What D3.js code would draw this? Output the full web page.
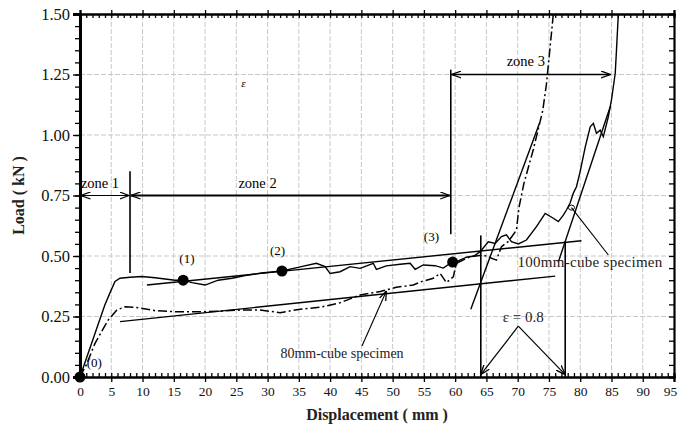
<!DOCTYPE html>
<html>
<head>
<meta charset="utf-8">
<script src="https://cdn.jsdelivr.net/npm/d3@7"></script>
<style>
  body { margin: 0; background: #fff; }
  svg { font-family: "Liberation Serif", "DejaVu Serif", serif; }
</style>
</head>
<body>
<svg class="chart"></svg>
<script>
// ---- data ----
var xTicks = d3.range(0, 96, 5);
var yTicks = [0, 0.25, 0.5, 0.75, 1.0, 1.25, 1.5];

// 100mm-cube specimen (solid)
var curve100 = [[0,0],[1,0.075],[2,0.15],[3,0.225],[4,0.30],[5,0.36],[5.6,0.395],[6.4,0.408],[8,0.412],
  [9.9,0.415],[12,0.41],[15.2,0.40],[16.5,0.40],[17.9,0.39],[20,0.38],[22.1,0.40],[24.3,0.408],[26.4,0.419],
  [29,0.43],[32.3,0.438],[35.4,0.456],[37.8,0.47],[39.2,0.456],[40,0.428],[41.6,0.435],[43.2,0.456],
  [44.8,0.449],[46.9,0.47],[47.4,0.445],[49,0.459],[51.2,0.466],[52.8,0.47],[53.6,0.445],[54.9,0.463],
  [56.8,0.46],[58.1,0.45],[59.6,0.477],[60.5,0.48],[61.8,0.495],[63,0.50],[64,0.518],[65.3,0.559],
  [66.4,0.552],[67.4,0.58],[68.2,0.587],[69,0.559],[70.1,0.55],[71.4,0.566],[73,0.621],[74.4,0.676],
  [75.7,0.656],[76.5,0.642],[77.3,0.669],[77.8,0.69],[78.4,0.72],[78.9,0.76],[79.4,0.786],[80,0.85],
  [80.8,0.95],[81.6,1.034],[82.1,1.048],[82.6,1.007],[83.2,1.02],[83.7,0.993],[84.5,1.076],[85,1.145],
  [85.6,1.255],[85.8,1.35],[86.1,1.5]];

// 80mm-cube specimen (dash-dot)
var curve80 = [[0,0],[1,0.05],[2.4,0.139],[3.5,0.19],[4.5,0.235],[5.9,0.277],[7.2,0.29],[8.8,0.288],
  [12,0.274],[15.2,0.27],[20.5,0.27],[25.9,0.277],[28.8,0.277],[32,0.266],[35.2,0.28],[38.4,0.288],
  [41.6,0.307],[44.8,0.339],[48,0.353],[50.6,0.371],[53.3,0.38],[54.6,0.394],[56.5,0.408],[57.6,0.428],
  [58.6,0.39],[59.7,0.414],[60.2,0.47],[62.4,0.497],[64.5,0.504],[66.6,0.483],[67.4,0.538],[68.5,0.56],
  [69.8,0.607],[70.2,0.70],[71,0.80],[72.5,0.94],[74,1.1],[74.6,1.21],[75.4,1.42],[75.7,1.5]];

// straight construction lines
var fitUpper = [[10.7,0.38],[80.2,0.563]];
var fitLower = [[6.4,0.229],[76,0.417]];
var tangent1 = [[62.5,0.28],[73.5,1.05]];
var tangent2 = [[76.5,0.475],[84.8,1.117]];
var verticals = [[8,0.43,0.85],[59.3,0.59,1.27],[64.1,0,0.585],[77.6,0,0.56]];

var points = [[0,0],[16.5,0.40],[32.3,0.438],[59.6,0.475]];
var pointLabels = ["(0)","(1)","(2)","(3)"];

var zones = [
  {name:"zone 1", x0:0,    x1:8,    y:0.75, w:1.2},
  {name:"zone 2", x0:8,    x1:59.3, y:0.75, w:2.2},
  {name:"zone 3", x0:59.3, x1:85,   y:1.25, w:1.4}
];

// ---- layout ----
var W = 678, H = 433;
var svg = d3.select(".chart").attr("width", W).attr("height", H);
var x = d3.scaleLinear().domain([0,95]).range([80,674]);
var y = d3.scaleLinear().domain([0,1.5]).range([377,14]);

var defs = svg.append("defs");
defs.append("marker").attr("id","arr").attr("viewBox","0 0 10 8")
  .attr("refX",9.5).attr("refY",4).attr("markerWidth",10).attr("markerHeight",8)
  .attr("markerUnits","userSpaceOnUse").attr("orient","auto-start-reverse")
  .append("path").attr("d","M0,0.5 L9.5,4 L0,7.5").attr("fill","none").attr("stroke","#000").attr("stroke-width",1.3);

// grid
svg.append("g").selectAll("line").data(xTicks.slice(1,-1)).enter().append("line")
  .attr("x1",x).attr("x2",x).attr("y1",y(0)).attr("y2",y(1.5))
  .attr("stroke","#c8c8c8").attr("stroke-dasharray","5,2");
svg.append("g").selectAll("line").data(yTicks.slice(1,-1)).enter().append("line")
  .attr("y1",y).attr("y2",y).attr("x1",x(0)).attr("x2",x(95))
  .attr("stroke","#c8c8c8").attr("stroke-dasharray","5,2");

// axes
var minorX = d3.range(0,96,1), minorY = d3.range(0,1.501,0.05);
var bottom = svg.append("g").attr("transform","translate(0,"+y(0)+")")
  .call(d3.axisBottom(x).tickValues(xTicks).tickSize(5).tickPadding(4).tickFormat(d3.format("d")));
svg.append("g").attr("transform","translate(0,"+y(0)+")")
  .call(d3.axisBottom(x).tickValues(minorX).tickSize(-4).tickFormat(""));
svg.append("g").attr("transform","translate(0,"+y(1.5)+")")
  .call(d3.axisTop(x).tickValues(xTicks).tickSize(4).tickFormat(""));
svg.append("g").attr("transform","translate(0,"+y(1.5)+")")
  .call(d3.axisTop(x).tickValues(minorX).tickSize(-4).tickFormat(""));
var left = svg.append("g").attr("transform","translate("+x(0)+",0)")
  .call(d3.axisLeft(y).tickValues(yTicks).tickSize(7).tickPadding(3).tickFormat(d3.format(".2f")));
svg.append("g").attr("transform","translate("+x(0)+",0)")
  .call(d3.axisLeft(y).tickValues(minorY).tickSize(5).tickFormat(""));
svg.append("g").attr("transform","translate("+x(95)+",0)")
  .call(d3.axisRight(y).tickValues(minorY).tickSize(-5).tickFormat(""));
svg.selectAll(".domain").attr("stroke-width",2.2).attr("stroke","#000");
left.select(".domain").attr("stroke-width",3);
svg.selectAll(".tick line").attr("stroke","#000").attr("stroke-width",1.3);
svg.selectAll(".tick text").attr("font-family","Liberation Serif").attr("fill","#111");
left.selectAll(".tick text").attr("font-size",16.5);
bottom.selectAll(".tick text").attr("font-size",13.5);
bottom.selectAll(".tick text").filter(function(d){return d === 95;}).attr("dx",-4);

// axis titles
svg.append("text").attr("x",(x(0)+x(95))/2).attr("y",420).attr("text-anchor","middle")
  .attr("font-size",16).attr("font-weight","bold").attr("fill","#222").text("Displacement ( mm )");
svg.append("text").attr("transform","translate(24,"+y(0.75)+") rotate(-90)").attr("text-anchor","middle")
  .attr("font-size",16).attr("font-weight","bold").attr("fill","#222").text("Load ( kN )");

var line = d3.line().x(function(d){return x(d[0]);}).y(function(d){return y(d[1]);});
var plot = svg.append("g");

// construction lines
[fitUpper, fitLower, tangent1, tangent2].forEach(function(seg){
  plot.append("path").attr("d",line(seg)).attr("fill","none").attr("stroke","#000").attr("stroke-width",1.4);
});
plot.selectAll(".vline").data(verticals).enter().append("line").attr("class","vline")
  .attr("x1",function(d){return x(d[0]);}).attr("x2",function(d){return x(d[0]);})
  .attr("y1",function(d){return y(d[1]);}).attr("y2",function(d){return y(d[2]);})
  .attr("stroke","#000").attr("stroke-width",1.6);

// curves
plot.append("path").attr("d",line(curve80)).attr("fill","none").attr("stroke","#000")
  .attr("stroke-width",1.5).attr("stroke-dasharray","9,3,2,3");
plot.append("path").attr("d",line(curve100)).attr("fill","none").attr("stroke","#000").attr("stroke-width",1.4);

// zone arrows
zones.forEach(function(z){
  plot.append("line").attr("x1",x(z.x0)+1).attr("x2",x(z.x1)-1).attr("y1",y(z.y)).attr("y2",y(z.y))
    .attr("stroke","#000").attr("stroke-width",z.w)
    .attr("marker-start","url(#arr)").attr("marker-end","url(#arr)");
});
plot.append("text").attr("x",x(3.2)).attr("y",y(0.75)-8).attr("text-anchor","middle").attr("font-size",14.5).text(zones[0].name);
plot.append("text").attr("x",x(28.4)).attr("y",y(0.75)-8).attr("text-anchor","middle").attr("font-size",14.5).text(zones[1].name);
plot.append("text").attr("x",x(71.3)).attr("y",y(1.25)-9).attr("text-anchor","middle").attr("font-size",14.5).text(zones[2].name);

// epsilon arrows
var apex = [70.1, 0.21];
[[64.1,0.01],[77.6,0.01]].forEach(function(t){
  plot.append("line").attr("x1",x(apex[0])).attr("y1",y(apex[1])).attr("x2",x(t[0])).attr("y2",y(t[1]))
    .attr("stroke","#000").attr("stroke-width",1.2).attr("marker-end","url(#arr)");
});
plot.append("text").attr("x",x(70.9)).attr("y",y(0.25)+5).attr("text-anchor","middle").attr("font-size",15)
  .attr("fill","#222").text("\u03b5 = 0.8");
plot.append("text").attr("x",x(25.8)).attr("y",y(1.20)).attr("font-size",11).attr("font-style","italic").text("\u03b5");

// specimen labels and leaders
plot.append("line").attr("x1",x(84.5)).attr("y1",y(0.504)).attr("x2",x(78.6)).attr("y2",y(0.70))
  .attr("stroke","#000").attr("stroke-width",1.1);
plot.append("ellipse").attr("cx",x(78.6)).attr("cy",y(0.70)).attr("rx",3).attr("ry",2.5)
  .attr("fill","none").attr("stroke","#000");
plot.append("text").attr("x",590).attr("y",y(0.455)).attr("text-anchor","middle").attr("font-size",15)
  .attr("letter-spacing",0.3).attr("fill","#222").text("100mm-cube specimen");
plot.append("line").attr("x1",362).attr("y1",346).attr("x2",x(49)).attr("y2",y(0.355))
  .attr("stroke","#000").attr("stroke-width",1.1).attr("marker-end","url(#arr)");
plot.append("text").attr("x",342).attr("y",358).attr("text-anchor","middle").attr("font-size",14)
  .attr("fill","#222").text("80mm-cube specimen");

// marked points
plot.selectAll(".pt").data(points).enter().append("circle").attr("class","pt")
  .attr("cx",function(d){return x(d[0]);}).attr("cy",function(d){return y(d[1]);})
  .attr("r",5.5).attr("fill","#000");
var labelPos = [[2.3,0.04],[17.1,0.47],[31.6,0.505],[56.2,0.56]];
plot.selectAll(".pl").data(pointLabels).enter().append("text").attr("class","pl")
  .attr("x",function(d,i){return x(labelPos[i][0]);}).attr("y",function(d,i){return y(labelPos[i][1]);})
  .attr("text-anchor","middle").attr("font-size",13).text(function(d){return d;});
</script>
</body>
</html>
